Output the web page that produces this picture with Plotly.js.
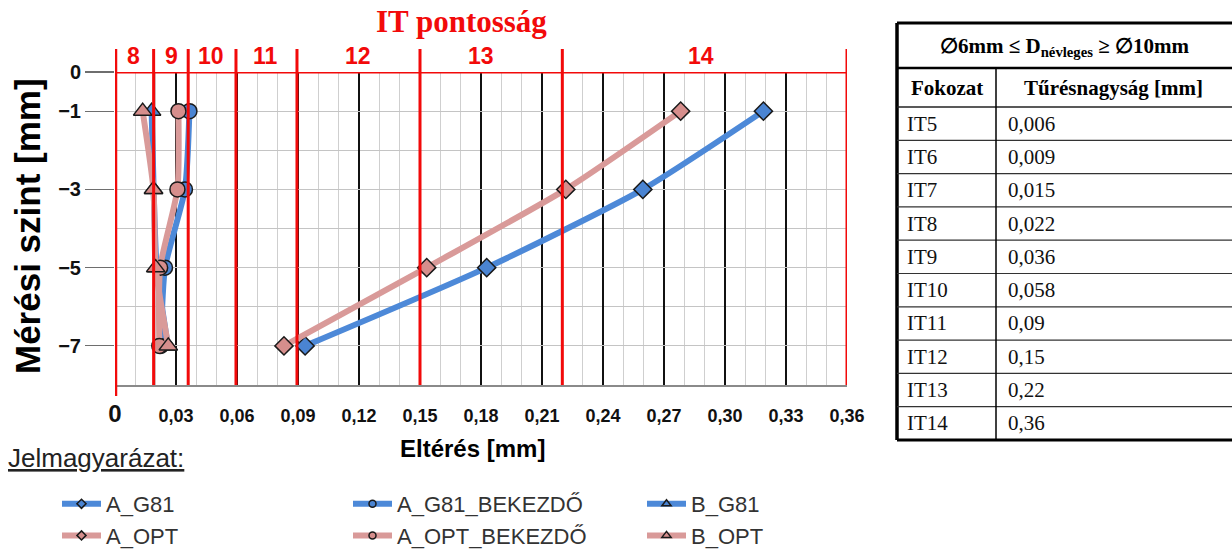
<!DOCTYPE html>
<html>
<head>
<meta charset="utf-8">
<script src="https://cdn.plot.ly/plotly-3.0.1.min.js"></script>
<style>html,body{margin:0;padding:0;background:#fff;}#chart{width:1232px;height:549px;}</style>
</head>
<body>
<div id="chart"></div>
<script>
// ---- data ----
const depthLevels = [-1, -3, -5, -7];
const seriesNames = ['A_G81', 'A_G81_BEKEZDŐ', 'B_G81', 'A_OPT', 'A_OPT_BEKEZDŐ', 'B_OPT'];
const A_G81 = [0.3189, 0.2596, 0.1828, 0.0935];
const A_G81_BEKEZDO = [0.0366, 0.0344, 0.0246, 0.0225];
const B_G81 = [0.0180, 0.0190, 0.0205, 0.0260];
const A_OPT = [0.2782, 0.2217, 0.1533, 0.0831];
const A_OPT_BEKEZDO = [0.0312, 0.0307, 0.0222, 0.0218];
const B_OPT = [0.0136, 0.0189, 0.0200, 0.0262];

const xTickVals = [0, 0.03, 0.06, 0.09, 0.12, 0.15, 0.18, 0.21, 0.24, 0.27, 0.30, 0.33, 0.36];
const yTickVals = [0, -1, -3, -5, -7];

// IT boundary lines as drawn in the picture, and the IT grade labels
const itBoundaries = [0, 0.019, 0.036, 0.0595, 0.0895, 0.15, 0.22, 0.36];
const itLabels = ['8', '9', '10', '11', '12', '13', '14'];
const itLabelX = [0.0089, 0.028, 0.0472, 0.0738, 0.1195, 0.180, 0.288];

// table
const tableTitle = '∅6mm ≤ D<sub>névleges</sub> ≥ ∅10mm';
const tableHeaders = ['Fokozat', 'Tűrésnagyság [mm]'];
const itGrades = ['IT5', 'IT6', 'IT7', 'IT8', 'IT9', 'IT10', 'IT11', 'IT12', 'IT13', 'IT14'];
const itTolerances = [0.006, 0.009, 0.015, 0.022, 0.036, 0.058, 0.09, 0.15, 0.22, 0.36];

// ---- layout helpers (pixel -> paper / container) ----
const W = 1232, H = 549;
const L = 115, R = 847, T = 72, B = 385;
const px = X => (X - L) / (R - L);
const py = Y => (B - Y) / (B - T);
const cx = X => X / W;
const cy = Y => 1 - Y / H;

const BLUE_LINE = '#4d89d8', BLUE_MK = '#4a84d2';
const PINK_LINE = '#d99a99', PINK_MK = '#d68e8c';
const RED = '#f20a0a';
const SANS = 'Liberation Sans, Arial, sans-serif';
const SERIF = 'Liberation Serif, Times New Roman, serif';

const seriesData = [A_G81, A_G81_BEKEZDO, B_G81, A_OPT, A_OPT_BEKEZDO, B_OPT];
const seriesStyle = [
  {line: BLUE_LINE, mk: BLUE_MK, sym: 'diamond', size: 14, legend: 'legend'},
  {line: BLUE_LINE, mk: BLUE_MK, sym: 'circle', size: 15, legend: 'legend2'},
  {line: BLUE_LINE, mk: BLUE_MK, sym: 'triangle-up', size: 16, legend: 'legend3'},
  {line: PINK_LINE, mk: PINK_MK, sym: 'diamond', size: 14, legend: 'legend'},
  {line: PINK_LINE, mk: PINK_MK, sym: 'circle', size: 15, legend: 'legend2'},
  {line: PINK_LINE, mk: PINK_MK, sym: 'triangle-up', size: 16, legend: 'legend3'}
];

const traces = seriesNames.map((name, i) => ({
  type: 'scatter', mode: 'lines+markers', name: name,
  x: seriesData[i], y: depthLevels, showlegend: false,
  line: {color: seriesStyle[i].line, width: 6, shape: 'spline', smoothing: 0.6},
  marker: {symbol: seriesStyle[i].sym, size: seriesStyle[i].size, color: seriesStyle[i].mk,
           line: {color: '#1a1a1a', width: 1.5}},
  cliponaxis: false
}));
// legend entries (small symbols, like the reference legend)
seriesNames.forEach((name, i) => traces.push({
  type: 'scatter', mode: 'lines+markers', name: name, x: [null], y: [null],
  legend: seriesStyle[i].legend, showlegend: true,
  line: {color: seriesStyle[i].line, width: 6},
  marker: {symbol: seriesStyle[i].sym, size: seriesStyle[i].sym === 'triangle-up' ? 8 : 7,
           color: seriesStyle[i].mk, line: {color: '#1a1a1a', width: 1.5}}
}));

const shapes = [];
// red IT boundary lines
itBoundaries.forEach((v, i) => {
  shapes.push({type: 'line', layer: 'above', xref: 'x', yref: 'paper', x0: v, x1: v,
    y0: i === 0 ? py(396) : 0, y1: py(49),
    line: {color: RED, width: i === 0 ? 4.5 : 3}});
});
// red top line at depth 0
shapes.push({type: 'line', layer: 'above', xref: 'x', yref: 'y', x0: 0, x1: 0.36, y0: 0, y1: 0,
  line: {color: RED, width: 3}});

// table geometry
const tLeft = 897, tRight = 1245, tDiv = 996, tTop = 23, tTitleBot = 68, tHeadBot = 107, rowH = 33.3;
const tBottom = tHeadBot + rowH * itGrades.length;
const P = (x0, y0, x1, y1, w, c) => shapes.push({type: 'line', xref: 'paper', yref: 'paper',
  x0: px(x0), x1: px(x1), y0: py(y0), y1: py(y1), line: {color: c || '#000', width: w}});
P(tLeft, tTop, tRight, tTop, 3);
P(tLeft, tBottom, tRight, tBottom, 3);
P(tLeft, tTop, tLeft, tBottom, 3.5);
P(tLeft, tTitleBot, tRight, tTitleBot, 2.5);
P(tLeft, tHeadBot, tRight, tHeadBot, 1.5, '#222');
for (let i = 1; i < itGrades.length; i++) {
  P(tLeft, tHeadBot + rowH * i, tRight, tHeadBot + rowH * i, 1.2, '#333');
}
P(tDiv, tTitleBot, tDiv, tBottom, 1.5);

const annotations = [];
const A = (o) => annotations.push(Object.assign({showarrow: false, xref: 'paper', yref: 'paper',
  xanchor: 'center', yanchor: 'middle'}, o));

// IT labels
itLabels.forEach((t, i) => A({xref: 'x', x: itLabelX[i], y: py(56), text: '<b>' + t + '</b>',
  font: {family: SANS, size: 23, color: RED}}));
A({x: px(461), y: py(22), text: '<b>IT pontosság</b>', font: {family: SERIF, size: 31, color: RED}});
// axis titles
A({x: px(28), y: py(226), text: '<b>Mérési szint [mm]</b>', textangle: -90,
  font: {family: SANS, size: 35, color: '#000'}});
A({x: px(472), y: py(448), text: '<b>Eltérés [mm]</b>', font: {family: SANS, size: 24, color: '#000'}});
A({x: px(6), xanchor: 'left', y: py(458), text: '<u>Jelmagyarázat:</u>',
  font: {family: SANS, size: 26, color: '#222'}});

// table texts
A({x: px((tLeft + 1232) / 2), y: py((tTop + tTitleBot) / 2 + 1), text: '<b>' + tableTitle + '</b>',
  font: {family: SERIF, size: 21, color: '#000'}});
A({x: px((tLeft + tDiv) / 2), y: py((tTitleBot + tHeadBot) / 2), text: '<b>' + tableHeaders[0] + '</b>',
  font: {family: SERIF, size: 21, color: '#000'}});
A({x: px(1113), y: py((tTitleBot + tHeadBot) / 2), text: '<b>' + tableHeaders[1] + '</b>',
  font: {family: SERIF, size: 21, color: '#000'}});
itGrades.forEach((g, i) => {
  const yc = py(tHeadBot + rowH * (i + 0.5));
  A({x: px(905), xanchor: 'left', y: yc, text: g, font: {family: SERIF, size: 21, color: '#111'}});
  A({x: px(1006), xanchor: 'left', y: yc, text: String(itTolerances[i]).replace('.', ','),
     font: {family: SERIF, size: 21, color: '#111'}});
});

const legendBase = {xref: 'container', yref: 'container', y: cy(483), yanchor: 'top', xanchor: 'left',
  orientation: 'v', font: {family: SANS, size: 22, color: '#333'}, bgcolor: 'rgba(0,0,0,0)',
  itemwidth: 39, tracegroupgap: 0, traceorder: 'normal', itemclick: false, itemdoubleclick: false};

const layout = {
  width: W, height: H,
  margin: {l: L, r: W - R, t: T, b: H - B, pad: 0, autoexpand: false},
  paper_bgcolor: '#fff', plot_bgcolor: '#fff',
  showlegend: true,
  legend: Object.assign({}, legendBase, {x: cx(57)}),
  legend2: Object.assign({}, legendBase, {x: cx(348)}),
  legend3: Object.assign({}, legendBase, {x: cx(642)}),
  xaxis: {
    range: [0, 0.36], tickmode: 'array', tickvals: xTickVals,
    ticktext: xTickVals.map((v, i) => i === 0 ? '<span style="font-size:24px">0</span>' : v.toFixed(2).replace('.', ',')),
    tickfont: {family: SANS, size: 18, color: '#111', weight: 'bold'},
    ticks: '', ticklabelstandoff: 14,
    showgrid: true, gridcolor: '#111', gridwidth: 1.2,
    minor: {tickmode: 'linear', tick0: 0, dtick: 0.01, showgrid: true, gridcolor: '#cfcfcf', gridwidth: 1},
    showline: true, linecolor: '#8a8a8a', linewidth: 1.5, zeroline: false, fixedrange: true,
    automargin: false
  },
  yaxis: {
    range: [-8, 0], tickmode: 'array', tickvals: yTickVals,
    tickfont: {family: SANS, size: 20, color: '#111', weight: 'bold'},
    ticks: 'outside', ticklen: 29, tickcolor: '#6e6e6e', tickwidth: 1.2,
    showgrid: true, gridcolor: '#c4c4c4', gridwidth: 1,
    minor: {tickmode: 'linear', tick0: 0, dtick: 1, showgrid: true, gridcolor: '#c4c4c4', gridwidth: 1},
    showline: false, zeroline: false, fixedrange: true, automargin: false
  },
  shapes: shapes,
  annotations: annotations
};

Plotly.newPlot('chart', traces, layout, {displayModeBar: false, staticPlot: true});
</script>
</body>
</html>
